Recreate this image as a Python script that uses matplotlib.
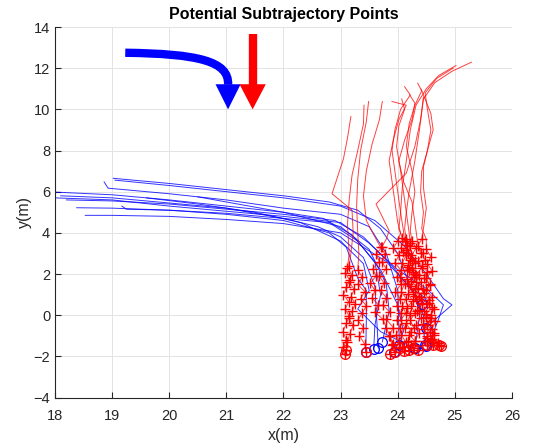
import matplotlib
matplotlib.use("Agg")
import matplotlib.pyplot as plt
from matplotlib.path import Path
from matplotlib.patches import PathPatch, Polygon

plt.rcParams['font.family'] = ['Liberation Sans', 'DejaVu Sans']

# blue trajectories (coming in from the left)
blue_x = [
    [19.02, 20.0, 21.0, 22.0, 22.8, 23.3, 23.7, 24.0, 24.2, 24.4, 24.3],
    [19.05, 20.0, 21.0, 22.0, 23.0, 23.6, 24.1, 24.5, 24.8, 24.95, 24.7, 24.49],
    [18.86, 18.93, 20.0, 21.0, 22.0, 23.0, 23.5, 23.8, 24.0, 24.03],
    [18.0, 19.0, 20.0, 21.0, 22.0, 22.7, 23.2, 23.6, 23.7, 23.6, 23.58],
    [18.1, 19.0, 20.0, 21.0, 22.0, 22.6, 23.0, 23.4, 23.6, 23.66],
    [18.2, 19.0, 20.0, 21.0, 22.0, 22.9, 23.4, 23.9, 24.3, 24.45, 24.47],
    [18.38, 19.0, 20.0, 21.0, 22.0, 22.8, 23.1, 23.3, 23.45, 23.45, 23.44],
    [18.53, 19.0, 20.0, 21.0, 22.0, 23.0, 23.8, 24.2, 24.5, 24.43],
    [19.17, 19.25, 20.0, 21.0, 22.0, 22.8, 23.3, 23.7, 24.0, 24.1, 23.94],
    [20.5, 21.0, 22.0, 23.0, 23.5, 23.8, 23.85, 23.73],
    [19.6, 20.5, 21.5, 22.3, 23.0, 23.4, 23.5, 23.3, 23.7, 24.28],
    [18.0, 19.0, 20.0, 21.0, 22.0, 23.0, 23.5, 24.0, 24.5, 24.8, 24.7, 24.6, 24.5],
]
blue_y = [
    [6.65, 6.4, 6.1, 5.8, 5.5, 5.1, 4.2, 3.0, 1.5, 0.3, -1.6],
    [6.56, 6.3, 6.0, 5.7, 5.3, 4.6, 3.4, 2.0, 0.8, 0.5, -0.1, -0.62],
    [6.47, 6.17, 5.9, 5.6, 5.2, 4.9, 4.3, 3.0, 1.2, -1.43],
    [5.98, 5.85, 5.6, 5.3, 5.0, 4.7, 3.9, 2.6, 1.0, -0.5, -1.64],
    [5.8, 5.7, 5.45, 5.2, 4.7, 4.3, 3.8, 2.8, 1.4, -1.59],
    [5.6, 5.55, 5.4, 5.15, 4.9, 4.6, 3.8, 2.4, 1.0, 0.0, -1.46],
    [5.22, 5.2, 5.1, 4.9, 4.6, 4.0, 3.3, 1.8, 1.2, -0.3, -1.8],
    [4.85, 4.85, 4.8, 4.65, 4.45, 4.0, 2.6, 1.4, 0.8, 0.55],
    [5.3, 5.15, 5.1, 4.95, 4.7, 4.5, 3.6, 2.2, 0.5, -0.8, -1.8],
    [5.75, 5.5, 5.0, 4.3, 3.2, 1.5, 0.2, -1.3],
    [5.7, 5.4, 5.0, 4.5, 3.6, 2.5, 1.2, 0.3, -0.8, -1.59],
    [5.7, 5.6, 5.3, 5.05, 4.8, 4.5, 3.5, 2.2, 1.3, 0.5, -0.3, -1.0, -1.5],
]

# red trajectories (coming down from the top): upper part, no markers
red_up_x = [
    [23.18, 23.12, 23.05, 22.85, 23.2, 23.22, 23.18],
    [23.41, 23.4, 23.3, 23.2, 23.15, 23.12, 23.15],
    [23.49, 23.45, 23.35, 23.3, 23.28, 23.3, 23.32],
    [23.73, 23.68, 23.55, 23.45, 23.4, 23.45, 23.6],
    [24.45, 24.4, 24.3, 24.15, 23.62, 23.85, 23.8],
    [25.29, 24.95, 24.65, 24.45, 24.38, 24.3, 24.2, 24.15, 24.12],
    [25.02, 24.72, 24.5, 24.32, 24.22, 24.15, 24.08, 24.05, 24.02],
    [24.97, 24.68, 24.48, 24.52, 24.58, 24.52, 24.42, 24.4, 24.45, 24.42, 24.5],
    [24.12, 24.22, 24.05, 23.95, 23.9, 23.95, 24.0, 24.05, 24.1],
    [24.35, 24.42, 24.3, 24.2, 24.15, 24.25, 24.3, 24.25, 24.22],
    [24.41, 24.48, 24.58, 24.62, 24.52, 24.45, 24.45, 24.5, 24.45],
    [23.9, 24.15, 24.02, 23.92, 23.85, 23.9, 23.95, 24.0, 24.05],
    [24.07, 24.12, 24.02, 23.98, 24.05, 24.1, 24.15, 24.2],
    [24.21, 24.3, 24.25, 24.12, 24.02, 24.1, 24.25, 24.3, 24.35],
]
red_up_y = [
    [9.65, 8.6, 7.6, 5.9, 5.1, 4.0, 3.0],
    [10.2, 9.3, 8.0, 6.8, 5.6, 4.4, 3.0],
    [10.38, 9.4, 8.0, 6.6, 5.3, 4.0, 3.0],
    [10.38, 9.5, 8.3, 7.0, 5.8, 4.6, 3.8],
    [10.6, 9.5, 8.2, 6.9, 5.4, 4.1, 3.7],
    [12.29, 11.85, 11.3, 10.5, 9.0, 7.5, 6.0, 5.0, 4.2],
    [12.13, 11.65, 11.0, 10.2, 9.0, 7.5, 6.2, 5.0, 4.2],
    [12.0, 11.5, 10.8, 10.0, 9.0, 8.0, 7.0, 6.0, 5.0, 4.2, 3.7],
    [11.1, 10.7, 10.0, 9.0, 8.0, 7.0, 6.0, 5.0, 4.1],
    [11.27, 10.9, 10.2, 9.3, 8.2, 7.0, 6.0, 5.0, 4.1],
    [10.98, 10.5, 9.8, 9.0, 8.0, 7.2, 6.2, 5.2, 4.2],
    [10.38, 10.2, 9.5, 8.5, 7.5, 6.5, 5.5, 4.5, 4.0],
    [10.5, 10.0, 9.2, 8.2, 7.0, 6.0, 5.0, 4.0],
    [10.7, 10.3, 9.5, 8.5, 7.5, 6.5, 5.5, 4.5, 3.5],
]
# lower part: potential subtrajectory points (+)
red_pt_x = [
    [23.15, 23.08, 23.16, 23.1, 23.05, 23.14, 23.08, 23.15, 23.1, 23.04, 23.1, 23.05, 23.07],
    [23.12, 23.2, 23.15, 23.24, 23.18, 23.26, 23.2, 23.14, 23.22, 23.16, 23.12, 23.1],
    [23.3, 23.38, 23.3, 23.42, 23.35, 23.45, 23.38, 23.3, 23.4, 23.33, 23.42, 23.45],
    [23.7, 23.78, 23.72, 23.8, 23.68, 23.76, 23.7, 23.8, 23.74, 23.86, 23.8, 23.92, 23.85, 23.9, 23.86],
    [23.72, 23.62, 23.68, 23.56, 23.62, 23.52, 23.6, 23.55, 23.66, 23.6, 23.74, 23.8, 23.86, 23.92, 23.95],
    [24.15, 24.22, 24.18, 24.3, 24.25, 24.38, 24.32, 24.45, 24.4, 24.52, 24.46, 24.58, 24.52, 24.64, 24.6, 24.7, 24.76],
    [24.08, 24.16, 24.1, 24.22, 24.18, 24.3, 24.24, 24.36, 24.3, 24.42, 24.38, 24.5, 24.44, 24.56, 24.52, 24.62, 24.72],
    [24.5, 24.58, 24.52, 24.6, 24.5, 24.56, 24.46, 24.55, 24.6, 24.5, 24.56, 24.46, 24.52, 24.48, 24.52],
    [24.12, 24.05, 24.15, 24.08, 24.16, 24.04, 24.12, 24.06, 24.15, 24.08, 24.14, 24.05, 24.12, 24.06, 24.14, 24.08, 24.11],
    [24.25, 24.32, 24.24, 24.3, 24.2, 24.28, 24.18, 24.26, 24.32, 24.24, 24.3, 24.22, 24.28, 24.2, 24.3, 24.24, 24.26],
    [24.42, 24.35, 24.44, 24.36, 24.42, 24.32, 24.4, 24.3, 24.38, 24.42, 24.34, 24.4, 24.32, 24.38, 24.3, 24.35],
    [24.0, 23.92, 24.02, 23.95, 24.05, 23.98, 24.06, 23.96, 24.04, 23.98, 24.06, 23.98, 24.04, 23.97, 24.03, 24.04],
    [24.22, 24.15, 24.25, 24.18, 24.26, 24.16, 24.24, 24.18, 24.26, 24.16, 24.22, 24.15, 24.24, 24.18, 24.2],
    [24.4, 24.48, 24.42, 24.52, 24.46, 24.56, 24.5, 24.6, 24.54, 24.64, 24.58, 24.66, 24.6, 24.64, 24.58, 24.62],
]
red_pt_y = [
    [2.4, 2.05, 1.7, 1.35, 1.0, 0.65, 0.3, -0.05, -0.4, -0.8, -1.2, -1.55, -1.9],
    [2.3, 1.95, 1.6, 1.25, 0.9, 0.55, 0.2, -0.15, -0.5, -0.9, -1.3, -1.7],
    [2.2, 1.85, 1.5, 1.15, 0.8, 0.45, 0.1, -0.25, -0.6, -1.0, -1.4, -1.8],
    [3.3, 2.95, 2.6, 2.25, 1.9, 1.55, 1.2, 0.85, 0.5, 0.15, -0.2, -0.6, -1.0, -1.45, -1.87],
    [3.3, 2.95, 2.6, 2.25, 1.9, 1.55, 1.2, 0.85, 0.5, 0.15, -0.2, -0.6, -1.0, -1.4, -1.8],
    [3.7, 3.35, 3.0, 2.65, 2.3, 1.95, 1.6, 1.25, 0.9, 0.55, 0.2, -0.15, -0.5, -0.85, -1.15, -1.35, -1.48],
    [3.75, 3.4, 3.05, 2.7, 2.35, 2.0, 1.65, 1.3, 0.95, 0.6, 0.25, -0.1, -0.45, -0.8, -1.1, -1.3, -1.46],
    [3.2, 2.85, 2.5, 2.15, 1.8, 1.45, 1.1, 0.75, 0.4, 0.05, -0.3, -0.65, -1.0, -1.25, -1.43],
    [3.6, 3.25, 2.9, 2.55, 2.2, 1.85, 1.5, 1.15, 0.8, 0.45, 0.1, -0.25, -0.6, -0.95, -1.3, -1.55, -1.75],
    [3.6, 3.25, 2.9, 2.55, 2.2, 1.85, 1.5, 1.15, 0.8, 0.45, 0.1, -0.25, -0.6, -0.95, -1.25, -1.45, -1.59],
    [3.7, 3.35, 3.0, 2.65, 2.3, 1.95, 1.6, 1.25, 0.9, 0.55, 0.2, -0.15, -0.5, -0.85, -1.25, -1.67],
    [3.6, 3.25, 2.9, 2.55, 2.2, 1.85, 1.5, 1.15, 0.8, 0.45, 0.1, -0.25, -0.6, -0.95, -1.3, -1.59],
    [3.5, 3.15, 2.8, 2.45, 2.1, 1.75, 1.4, 1.05, 0.7, 0.35, 0.0, -0.4, -0.8, -1.25, -1.7],
    [3.0, 2.7, 2.4, 2.1, 1.8, 1.5, 1.2, 0.9, 0.6, 0.3, 0.0, -0.3, -0.65, -0.95, -1.2, -1.45],
]

fig = plt.figure(figsize=(5.37, 4.43), dpi=100)
ax = fig.add_axes([0.1024, 0.1027, 0.851, 0.8363])

for xs, ys in zip(blue_x, blue_y):
    ax.plot(xs, ys, color='#0000ff', lw=0.7, alpha=0.8)
    ax.plot(xs[-1], ys[-1], 'o', mfc='none', mec='#0000ff', ms=7, mew=0.9)

for ux, uy, px, py in zip(red_up_x, red_up_y, red_pt_x, red_pt_y):
    ax.plot(ux + px, uy + py, color='#ff0000', lw=0.7, alpha=0.75)
    ax.plot(px, py, '+', color='#ff0000', ms=7.5, mew=1.0, ls='none')
    ax.plot(px[-1], py[-1], 'o', mfc='none', mec='#ff0000', ms=7, mew=0.9)

# direction arrows
blue_path = Path([(19.23, 12.75), (20.5, 12.7), (21.05, 12.35), (21.03, 11.2)],
                 [Path.MOVETO, Path.CURVE4, Path.CURVE4, Path.CURVE4])
ax.add_patch(PathPatch(blue_path, fc='none', ec='#0000ff', lw=6, capstyle='butt'))
ax.add_patch(Polygon([(20.81, 11.22), (21.25, 11.22), (21.03, 10.0)], closed=True,
                     fc='#0000ff', ec='none'))
ax.plot([21.46, 21.46], [13.66, 11.2], color='#ff0000', lw=6, solid_capstyle='butt')
ax.add_patch(Polygon([(21.23, 11.22), (21.69, 11.22), (21.46, 10.0)], closed=True,
                     fc='#ff0000', ec='none'))

ax.set_xlim(18, 26)
ax.set_ylim(-4, 14)
ax.set_xticks(range(18, 27))
ax.set_yticks(range(-4, 15, 2))
ax.grid(True, color='#e3e3e3', lw=0.7)
ax.set_axisbelow(True)
for s in ['top', 'right']:
    ax.spines[s].set_visible(False)
for s in ['left', 'bottom']:
    ax.spines[s].set_color('#262626')
    ax.spines[s].set_linewidth(0.8)
ax.tick_params(direction='in', length=4, width=0.8, colors='#262626', labelsize=10.5)
ax.tick_params(axis='x', pad=8)

ax.set_title('Potential Subtrajectory Points', fontsize=11.5, fontweight='bold', pad=6)
ax.set_xlabel('x(m)', fontsize=11.5, color='#262626', labelpad=4)
ax.set_ylabel('y(m)', fontsize=11.5, color='#262626', labelpad=1)

fig.savefig('out.png', dpi=100)
